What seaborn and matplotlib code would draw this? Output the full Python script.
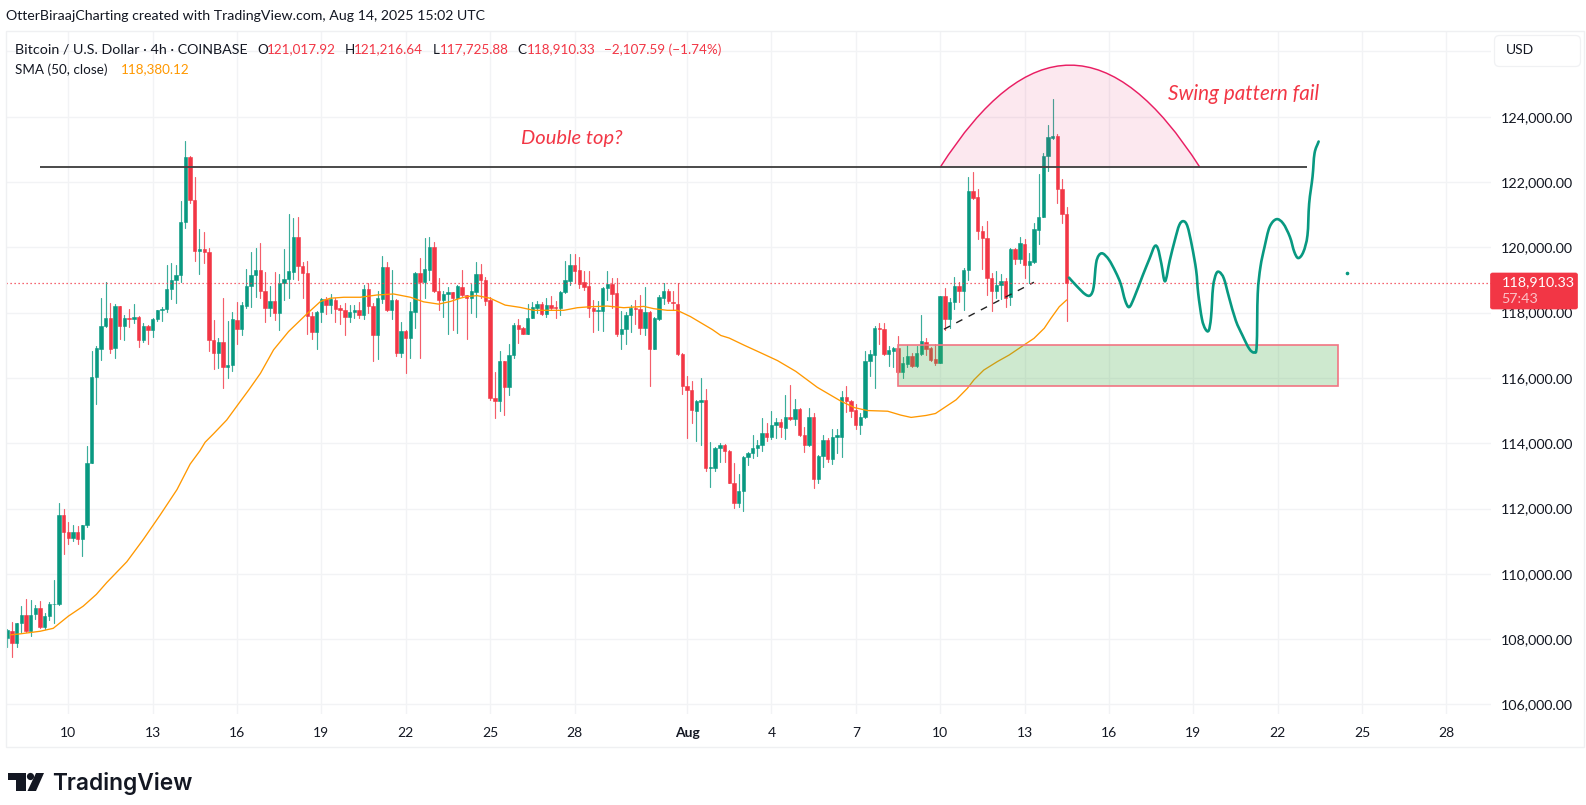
import numpy as np
import pandas as pd
import matplotlib
matplotlib.use("Agg")
import matplotlib.pyplot as plt
from matplotlib.patches import Rectangle, FancyBboxPatch, PathPatch, Polygon, Circle
from matplotlib.path import Path
import seaborn as sns

# ---- data (thousand USD per 4h candle, first candle Jul 7 20:00) ----
opens = [108.03,108.26,107.89,108.49,108.75,108.24,108.77,108.94,108.36,108.72,
109.07,109.07,111.79,111.28,111.09,111.27,111.06,111.48,113.40,116.03,
116.90,117.60,117.84,116.91,118.19,117.58,117.84,117.80,117.87,117.15,
117.60,117.46,117.79,118.07,118.12,118.72,119.00,119.14,120.79,122.76,
121.46,119.88,119.96,119.87,117.15,116.76,117.11,116.32,116.41,117.78,
117.49,118.20,118.80,119.15,119.31,118.66,118.15,118.36,118.00,118.91,
119.03,119.25,120.33,119.43,119.22,117.90,117.40,118.01,118.42,118.23,
118.39,118.15,118.08,117.88,118.01,118.08,117.93,118.72,118.20,117.30,
118.43,119.41,118.08,118.39,116.76,117.44,117.22,118.03,119.20,118.94,
119.31,120.02,118.66,118.39,118.57,118.63,118.44,118.79,118.54,118.44,
118.63,119.18,119.00,118.39,115.38,115.30,116.52,115.71,116.71,117.62,
117.52,117.35,117.83,118.15,118.26,117.96,118.22,118.16,118.13,118.62,
118.98,119.46,119.30,118.93,118.81,118.14,118.06,118.05,118.76,118.88,
118.59,117.35,117.49,117.93,118.14,118.12,117.54,118.01,116.88,117.80,
118.46,118.66,118.33,118.26,116.74,115.76,115.64,115.00,115.27,115.31,
113.24,113.24,113.86,113.93,113.76,112.79,112.18,112.53,113.57,113.69,
113.84,113.93,114.32,114.20,114.55,114.66,114.48,114.81,114.73,115.05,
114.24,113.93,114.81,112.90,113.60,114.10,113.51,114.20,114.20,115.42,
115.28,115.03,114.55,114.80,116.51,116.70,117.52,117.50,116.74,116.83,
116.91,116.18,116.43,116.67,116.36,116.73,117.11,116.91,116.57,116.47,
118.51,117.80,118.32,118.80,118.66,119.31,121.71,121.53,120.51,120.30,
119.07,118.67,118.85,118.98,118.49,119.95,119.64,120.11,119.46,119.56,
120.53,120.94,122.80,123.35,123.42,121.78,121.02]
highs = [108.31,108.53,108.50,109.01,109.24,109.20,109.04,109.16,108.81,109.15,
109.80,112.16,111.97,111.60,111.48,111.45,111.48,113.92,116.83,116.98,
118.45,118.93,118.30,118.25,118.21,117.92,118.12,118.25,117.89,117.69,
117.63,117.85,118.09,118.16,119.47,119.52,119.45,121.41,123.25,122.80,
122.16,120.56,120.48,119.99,117.76,117.21,118.46,117.75,118.01,118.34,
118.34,119.33,119.85,119.99,120.12,119.23,118.83,119.23,119.18,119.94,
121.01,120.89,120.92,119.56,119.58,118.03,118.06,118.46,118.47,118.57,
118.44,118.23,118.29,118.23,118.23,118.33,118.85,118.90,118.29,118.66,
119.73,119.55,119.31,118.42,117.70,117.47,118.34,119.25,119.66,120.28,
120.31,120.16,119.05,118.67,118.78,118.64,118.85,119.32,118.54,118.87,
119.54,119.49,119.08,118.49,116.17,116.81,116.52,117.04,117.69,117.80,
117.55,118.26,118.31,118.37,118.32,118.44,118.51,118.37,118.66,119.57,
119.79,119.81,119.69,119.28,119.28,118.39,118.36,118.79,119.28,119.05,
119.07,118.05,118.03,118.23,118.39,118.54,118.79,118.05,117.86,118.53,
118.92,118.71,118.67,118.90,116.76,116.07,115.92,115.32,116.00,115.66,
114.04,113.89,114.01,113.99,113.78,113.40,113.05,113.61,113.73,114.24,
114.11,114.78,114.63,115.00,114.78,114.75,115.49,115.77,115.36,115.08,
114.50,115.08,114.91,113.63,114.24,114.16,114.42,114.42,115.59,115.75,
115.32,115.19,114.91,116.83,116.84,117.60,117.67,117.67,116.98,116.96,
117.29,116.65,117.01,116.75,116.98,117.93,117.22,116.96,117.04,118.51,
118.75,118.44,119.10,118.95,119.36,122.15,122.32,121.79,120.66,120.81,
119.21,119.28,119.19,119.05,119.99,119.97,120.33,120.26,119.82,120.74,
122.25,122.88,123.75,124.54,123.48,122.09,121.22]
lows = [107.77,107.44,107.75,108.22,108.21,108.08,108.63,108.34,108.31,108.58,
108.50,109.04,110.61,110.91,111.00,110.90,110.55,111.42,113.38,115.20,
116.54,117.56,116.76,116.62,117.19,117.16,117.57,117.68,116.94,117.09,
117.05,117.25,117.73,117.73,118.02,118.43,118.29,118.95,120.59,121.35,
119.59,119.18,119.52,116.83,116.26,116.30,115.70,116.00,116.20,117.04,
117.30,118.13,118.18,118.49,118.46,117.72,117.90,117.76,117.47,118.39,
118.44,119.02,119.00,118.44,117.34,117.18,116.90,117.72,117.96,118.00,
117.70,117.65,117.32,117.72,117.83,117.83,117.80,117.98,116.52,116.58,
118.29,118.06,117.80,116.68,116.65,116.16,116.60,117.52,116.60,118.44,
119.00,118.64,118.08,117.87,117.35,117.47,117.39,118.52,117.20,118.00,
117.88,118.44,118.23,115.31,114.76,115.00,114.86,115.47,116.61,117.08,
117.33,117.35,117.83,118.00,117.94,117.88,118.08,117.85,117.92,118.61,
118.84,118.90,118.74,118.69,117.88,117.40,117.47,117.44,118.39,118.15,
117.27,116.90,117.04,117.41,117.65,117.34,117.32,115.74,116.88,117.78,
118.26,118.29,118.08,116.71,115.50,114.17,114.61,114.07,113.94,113.15,
112.67,113.15,113.43,113.42,112.77,112.01,112.06,111.93,113.32,113.54,
113.61,113.76,114.07,114.12,114.17,114.19,114.14,114.71,114.57,114.22,
113.73,113.91,112.63,112.79,113.28,113.42,113.35,113.71,113.58,114.95,
114.81,114.42,114.27,114.78,116.05,115.68,117.04,116.70,116.37,116.33,
116.16,115.99,116.34,116.34,116.34,116.71,116.71,116.53,116.41,116.45,
117.47,117.52,118.10,118.34,118.08,119.00,121.49,120.26,119.34,118.54,
118.06,118.44,118.41,118.18,118.24,119.49,119.51,119.05,118.92,119.53,
120.11,120.92,122.35,123.31,121.35,120.74,117.73]
closes = [108.27,107.88,108.49,108.75,108.24,108.75,108.94,108.36,108.71,109.07,
109.09,111.79,111.28,111.09,111.27,111.06,111.48,113.40,116.03,116.93,
117.60,117.84,116.89,118.19,117.58,117.84,117.80,117.87,117.15,117.60,
117.46,117.79,118.07,118.12,118.72,119.00,119.14,120.79,122.76,121.46,
119.88,119.96,119.87,117.15,116.76,117.11,116.32,116.41,117.79,117.49,
118.22,118.80,119.15,119.31,118.66,118.15,118.36,118.00,118.92,119.03,
119.28,120.33,119.43,119.22,117.90,117.40,118.02,118.42,118.23,118.42,
118.10,118.08,117.88,118.01,118.08,117.92,118.72,118.20,117.30,118.45,
119.41,118.08,118.39,116.76,117.44,117.22,118.05,119.20,118.94,119.33,
120.02,118.66,118.39,118.57,118.63,118.44,118.82,118.54,118.44,118.66,
119.18,119.00,118.37,115.38,115.30,116.52,115.71,116.71,117.62,117.51,
117.35,117.83,118.16,118.26,117.96,118.22,118.14,118.14,118.62,119.00,
119.46,119.28,118.88,118.79,118.14,118.05,118.08,118.76,118.88,118.58,
117.35,117.49,117.94,118.15,118.12,117.54,118.01,116.88,117.84,118.48,
118.66,118.37,118.29,116.74,115.74,115.62,115.03,115.29,115.31,113.23,
113.26,113.86,113.93,113.76,112.79,112.18,112.53,113.59,113.71,113.84,
113.93,114.32,114.20,114.57,114.66,114.49,114.81,114.73,115.05,114.24,
113.94,114.81,112.90,113.61,114.10,113.51,114.20,114.24,115.42,115.28,
115.00,114.55,114.81,116.51,116.72,117.52,117.50,116.74,116.85,116.91,
116.19,116.45,116.67,116.36,116.75,117.12,116.88,116.55,116.47,118.51,
117.80,118.33,118.80,118.67,119.31,121.71,121.51,120.51,120.30,119.07,
118.67,118.85,118.98,118.44,119.95,119.64,120.13,119.46,119.58,120.55,
120.94,122.80,123.38,123.40,121.78,121.01,118.91]

sma_idx = [0.6,2.7,7,9.8,13,16.2,19,21.2,25.5,29,32.6,36.2,39,41.1,42.2,44,46.8,49.7,
51.5,54,56.8,60,63.9,66.8,68.9,71.8,75.3,78.9,82.4,86,88.8,92,94.5,96.6,
98,100.2,103,106.2,109.4,112.3,115.9,118.7,121.6,124.4,128,131.5,135.8,137.9,140.8,142.9,145.7,
150.4,152.2,154,157.2,160.7,164.3,168.2,172.8,177.8,180.7,183.5,187.8,190.6,192.8,196,198,202.4,
204.8,206.2,208.3,211.2,213.7,216.9,219,221.2,222.6,224.4,226]
sma_val = [108.13,108.16,108.24,108.33,108.70,109.01,109.37,109.73,110.37,111.05,111.80,112.58,113.36,113.77,114.03,114.29,114.71,115.28,
115.63,116.14,116.86,117.42,117.96,118.34,118.44,118.47,118.47,118.54,118.57,118.47,118.33,118.26,118.34,118.44,
118.49,118.52,118.44,118.23,118.16,118.07,118.07,118.07,118.15,118.18,118.20,118.15,118.19,118.12,118.07,118.07,117.88,
117.48,117.30,117.22,117.00,116.77,116.53,116.20,115.71,115.29,115.09,115.00,114.98,114.86,114.79,114.85,114.91,115.33,
115.68,115.94,116.24,116.50,116.70,117.01,117.21,117.52,117.82,118.18,118.39]

path_idx = [226.48,228.14,229.94,231.03,231.74,232.25,232.83,233.69,235.00,236.44,237.51,238.46,239.32,240.41,242.21,243.65,244.74,245.45,246.18,246.97,
247.98,249.06,250.00,250.87,251.73,252.68,253.61,254.05,254.83,255.56,256.28,256.78,257.21,257.87,258.58,259.53,260.61,262.05,263.49,264.94,
266.02,266.52,266.74,267.32,268.19,269.27,270.71,272.16,273.60,274.54,275.40,276.48,277.35,277.71,278.43,278.86,279.73]
path_val = [119.07,118.81,118.56,118.53,118.78,119.50,119.75,119.81,119.62,119.24,118.88,118.37,118.17,118.47,119.14,119.65,120.03,119.96,119.50,118.96,
119.60,120.22,120.68,120.80,120.65,120.06,119.29,118.58,117.81,117.50,117.45,117.86,118.78,119.19,119.24,119.04,118.47,117.76,117.30,116.89,
116.78,116.99,118.58,119.40,120.01,120.62,120.86,120.73,120.32,119.86,119.67,119.86,120.37,121.34,122.16,122.88,123.24]

last_price = 118910.33
double_top_level = 122450
zone_low, zone_high = 115750, 117010
trend_idx = [199.8, 219.0]
trend_val = [117490, 118930]
arc_idx = [199.0, 226.7, 254.4]
arc_base, arc_peak = 122450, 125580
price_ticks = [106000,108000,110000,112000,114000,116000,118000,120000,122000,124000,126000]
time_idx = [13,31,49,67,85,103,121,145,163,181,199,217,235,253,271,289,307]
time_labels = ["10","13","16","19","22","25","28","Aug","4","7","10","13","16","19","22","25","28"]

# ---- figure ----
sns.set_theme(style="white")
FONT = "Lato"
plt.rcParams["font.family"] = [FONT, "DejaVu Sans"]
INK, RED, GREEN, GRID = "#131722", "#f23645", "#089981", "#f2f3f5"
W, H = 1586, 805
fig = plt.figure(figsize=(W/100, H/100), dpi=100, facecolor="white")
L, R, T, B = 6, 1491, 31, 714
ax = fig.add_axes([L/W, 1-B/H, (R-L)/W, (B-T)/H])
ax.set_xlim(-0.277, 316.5)
ax.set_ylim(105706, 126625)

o, h, l, c = [np.array(a)*1000 for a in (opens, highs, lows, closes)]
idx = np.arange(len(o))
up = c >= o
wicks = pd.DataFrame({
    "idx": np.r_[idx, idx], "price": np.r_[h, l],
    "candle": np.r_[idx, idx], "dir": np.r_[up, up]})
sns.lineplot(data=wicks, x="idx", y="price", units="candle", hue="dir", estimator=None,
             palette={True: GREEN, False: RED}, lw=0.85, alpha=0.8, legend=False, ax=ax, zorder=3)
ax.bar(idx, np.abs(c-o), bottom=np.minimum(o, c), width=0.72,
       color=np.where(up, GREEN, RED), edgecolor=np.where(up, GREEN, RED), linewidth=0.4, zorder=4)

sns.lineplot(x=sma_idx, y=np.array(sma_val)*1000, color="#ff9800", lw=0.95, ax=ax, zorder=5,
             estimator=None, sort=False)
ax.add_patch(Rectangle((190.1, zone_low), 283.8-190.1, zone_high-zone_low, facecolor=(0.30, 0.69, 0.31, 0.27),
                       edgecolor="#f27583", lw=1.2, zorder=6))
verts = [(arc_idx[0], arc_base), (arc_idx[1], arc_base+2*(arc_peak-arc_base)), (arc_idx[2], arc_base)]
ax.add_patch(PathPatch(Path(verts, [Path.MOVETO, Path.CURVE3, Path.CURVE3]), facecolor=(0.91, 0.12, 0.39, 0.10),
                       edgecolor="#e91e63", lw=1.05, zorder=6))
ax.hlines(double_top_level, 7, 277.2, color="#434343", lw=1.35, zorder=7)
sns.lineplot(x=trend_idx, y=trend_val, color="#222222", lw=1.0, linestyle=(0, (5, 5)), ax=ax, zorder=7)

# hand-drawn projection: smooth curve through the points
px = np.array(path_idx); py = np.array(path_val)*1000
n = len(px)
pts = np.c_[px, py]
tang = np.zeros_like(pts)
tang[1:-1] = (pts[2:] - pts[:-2]) / 6.0
tang[0] = (pts[1] - pts[0]) / 3.0
tang[-1] = (pts[-1] - pts[-2]) / 3.0
vs = [tuple(pts[0])]; cs = [Path.MOVETO]
for i in range(n-1):
    vs += [tuple(pts[i]+tang[i]), tuple(pts[i+1]-tang[i+1]), tuple(pts[i+1])]
    cs += [Path.CURVE4]*3
ax.add_patch(PathPatch(Path(vs, cs), fill=False, edgecolor=GREEN, lw=1.9, zorder=8, capstyle="round", joinstyle="round"))
ax.plot([285.7], [119220], "o", color=GREEN, ms=1.6, zorder=8)
ax.axhline(last_price, color=RED, lw=0.9, ls=(0, (1, 2.2)), zorder=7)

ax.set_xlabel(""); ax.set_ylabel("")
ax.set_xticks(time_idx, time_labels)
ax.yaxis.tick_right()
ax.set_yticks(price_ticks, [f"{p:,.2f}" if p < 126000 else "" for p in price_ticks])
ax.grid(True, color=GRID, lw=1.0, zorder=0)
ax.set_axisbelow(True)
ax.tick_params(axis="x", length=0, labelsize=10.0, labelcolor=INK, pad=9.5)
ax.tick_params(axis="y", length=0, labelsize=10.3, labelcolor=INK, pad=7.4)
for t_ in ax.get_xticklabels():
    if t_.get_text() == "Aug":
        t_.set_fontweight("bold")
sns.despine(ax=ax, left=True, right=True, top=True, bottom=True)
ax.set_facecolor("none")

# ---- chrome, in pixel coordinates ----
ov = fig.add_axes([0, 0, 1, 1], facecolor="none", zorder=10)
ov.set_xlim(0, W); ov.set_ylim(H, 0); ov.axis("off")
ov.add_patch(Rectangle((6, 31), 1578, 716, fill=False, edgecolor="#eff0f2", lw=1.0))
ov.add_patch(FancyBboxPatch((1497, 38), 81, 26, boxstyle="round,pad=2.5,rounding_size=5", fc="white", ec="#f0f1f3", lw=0.9))
ov.text(1505.5, 50.5, "USD", fontsize=10, color=INK, va="center")

def t(x, y, s, color=INK, size=9.75, **kw):
    ov.text(x, y, s, color=color, fontsize=size, va="center", ha=kw.pop("ha", "left"), **kw)

t(6, 16.5, "OtterBiraajCharting created with TradingView.com, Aug 14, 2025 15:02 UTC", size=10.2)
t(15, 49.5, "Bitcoin / U.S. Dollar · 4h · COINBASE", size=10.3)
for x, s in [(257, "O"), (344.6, "H"), (432.4, "L"), (517.3, "C")]:
    t(x, 49.5, s)
for x, s in [(267, "121,017.92"), (354, "121,216.64"), (440, "117,725.88"), (526.7, "118,910.33"), (604, "−2,107.59 (−1.74%)")]:
    t(x, 49.5, s, color=RED)
t(15, 69.5, "SMA (50, close)")
t(120.6, 69.5, "118,380.12", color="#ff9800")
t(571.5, 138.5, "Double top?", color=RED, size=14.5, style="italic", ha="center")
t(1244, 94.5, "Swing pattern fail", color=RED, size=14.9, style="italic", ha="center")

ov.add_patch(FancyBboxPatch((1491.5, 274), 85, 34, boxstyle="round,pad=1,rounding_size=2", fc=RED, ec=RED, lw=0.5))
t(1501.5, 282, "118,910.33", color="white", size=10.3)
t(1501.5, 299, "57:43", color="#fbc2c7", size=10.3)

# logo
logo = "#131722"
ov.add_patch(Polygon([(8, 773), (26, 773), (26, 791), (16, 791), (16, 780), (8, 780)], fc=logo, ec="none"))
ov.add_patch(Circle((30.5, 776.5), 3.6, fc=logo, ec="none"))
ov.add_patch(Polygon([(36, 773), (44, 773), (36, 791), (27.5, 791)], fc=logo, ec="none"))
ov.text(52, 783, "TradingView", fontsize=16.4, family="Inter", fontweight="semibold", color=logo, va="center")

fig.savefig("out.png", dpi=100)
